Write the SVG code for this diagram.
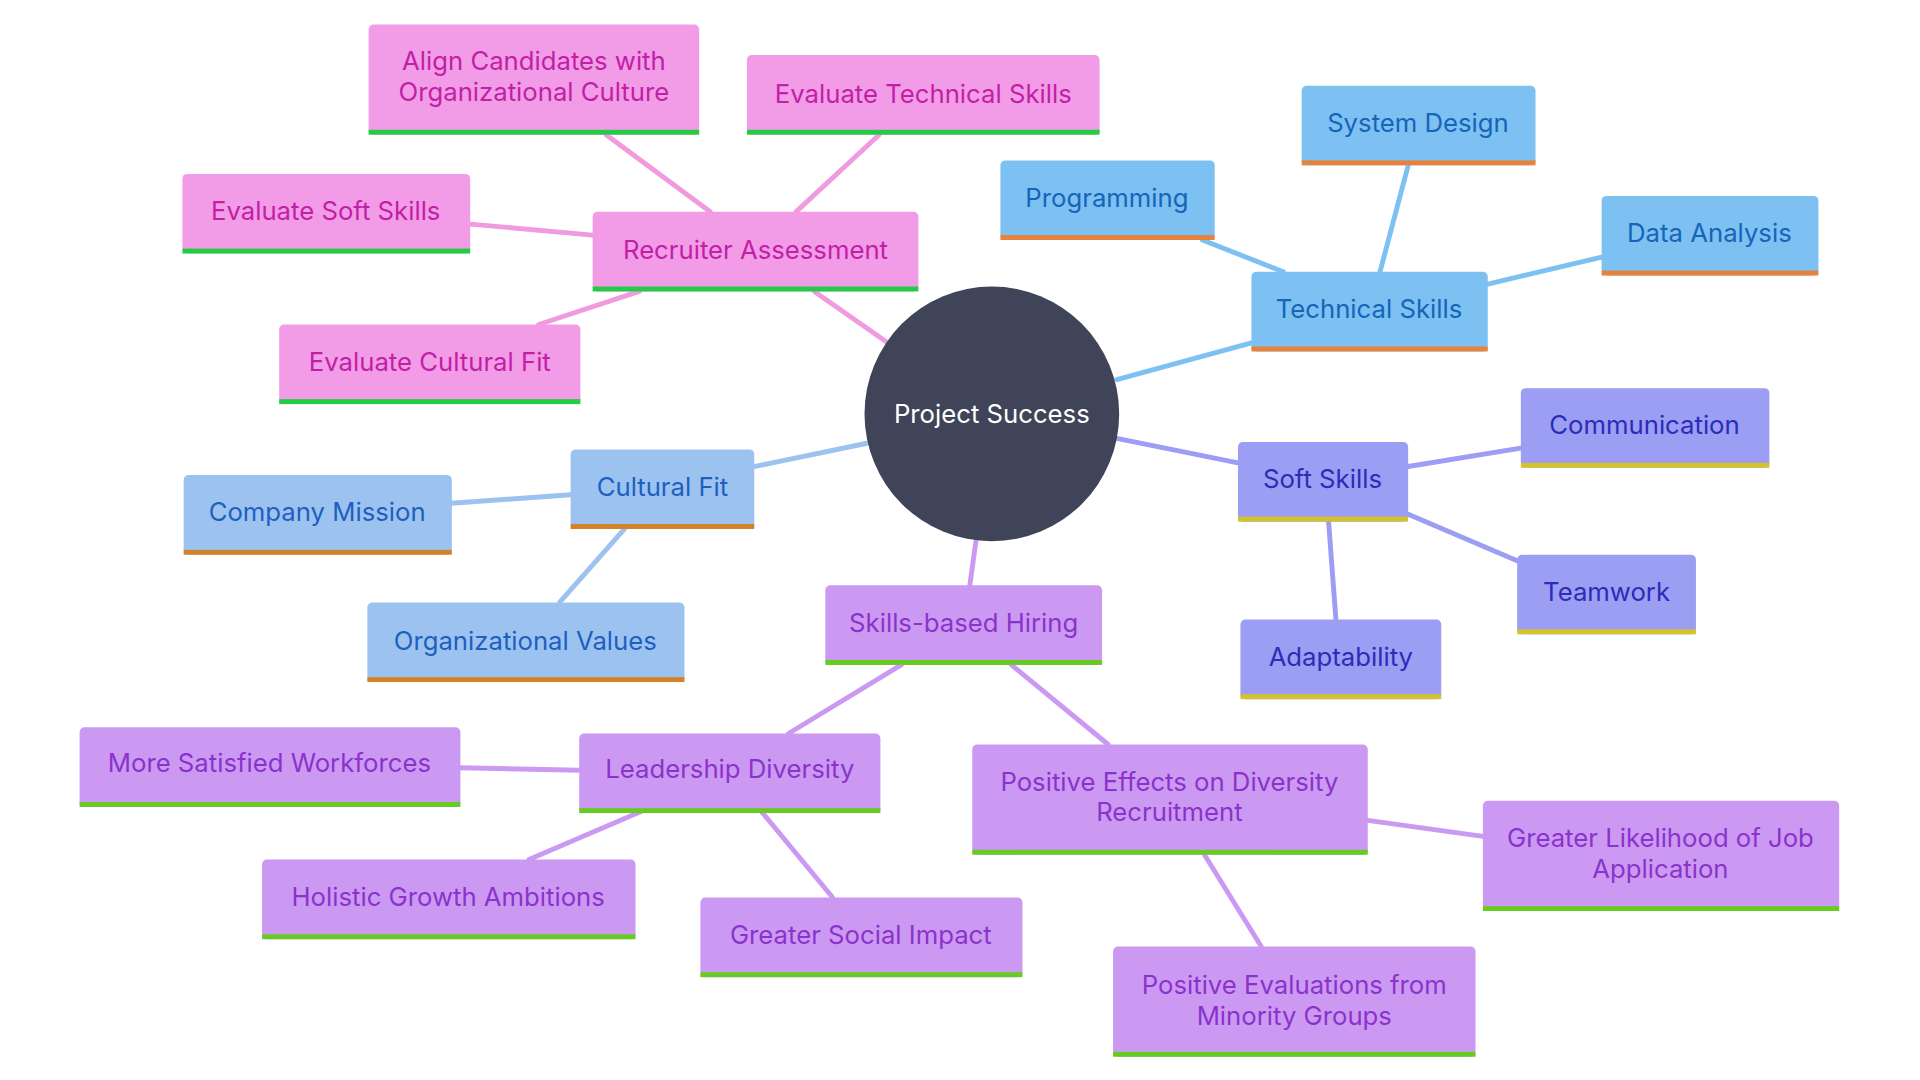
<svg xmlns="http://www.w3.org/2000/svg" width="1920" height="1080" viewBox="0 0 1920 1080">
<style>
text{font-family:Inter,"Noto Sans",sans-serif;font-size:21px;text-anchor:middle;dominant-baseline:central}
.e line{stroke-width:4;stroke-linecap:round}
.pk rect.b{fill:#f29be6}.pk rect.u{fill:#22cc44}.pk text{fill:#c21fa6}
.tb rect.b{fill:#7dc0f2}.tb rect.u{fill:#e8823a}.tb text{fill:#1565b8}
.sb rect.b{fill:#9b9ef2}.sb rect.u{fill:#d4c42a}.sb text{fill:#2c2cb8}
.cb rect.b{fill:#9cc3f0}.cb rect.u{fill:#d4822a}.cb text{fill:#1f5fc0}
.pp rect.b{fill:#cc99f2}.pp rect.u{fill:#66cc22}.pp text{fill:#8a33cc}
</style>
<rect width="1920" height="1080" fill="#fff"/>
<g transform="scale(1.2245)">
<g class="e">
<g stroke="#f09ae0"><line x1="725" y1="280" x2="665" y2="238"/><line x1="580" y1="173" x2="495" y2="110"/><line x1="650" y1="173" x2="718" y2="110"/><line x1="484" y1="192" x2="384" y2="183"/><line x1="522" y1="238" x2="440" y2="265"/></g>
<g stroke="#7dc0f2"><line x1="912" y1="310" x2="1022" y2="280"/><line x1="1048" y1="222" x2="982" y2="196"/><line x1="1127" y1="222" x2="1150" y2="135"/><line x1="1215" y1="232" x2="1308" y2="210"/></g>
<g stroke="#9b9ef2"><line x1="912" y1="358" x2="1011" y2="378"/><line x1="1150" y1="381" x2="1242" y2="366"/><line x1="1150" y1="420" x2="1239" y2="458"/><line x1="1085" y1="426" x2="1091" y2="506"/></g>
<g stroke="#9cc3f0"><line x1="708" y1="362" x2="616" y2="381"/><line x1="466" y1="404" x2="369" y2="411"/><line x1="510" y1="432" x2="457" y2="492"/></g>
<g stroke="#cc99f2"><line x1="797" y1="442" x2="792" y2="478"/><line x1="736" y1="543" x2="644" y2="599"/><line x1="826" y1="543" x2="905" y2="608"/><line x1="473" y1="629" x2="376" y2="627"/><line x1="523" y1="663" x2="432" y2="702"/><line x1="622" y1="663" x2="680" y2="733"/><line x1="1117" y1="670" x2="1211" y2="683"/><line x1="983" y1="697" x2="1030" y2="773"/></g>
</g>
<g id="center"><circle cx="810" cy="338" r="104" fill="#3f4459"/><text x="810" y="338" fill="#fff">Project Success</text></g>
<g class="pk">
<g id="align"><rect class="b" x="301" y="20" width="270" height="90" rx="4"/><rect class="u" x="301" y="106" width="270" height="4"/><text x="436" y="49">Align Candidates with</text><text x="436" y="75">Organizational Culture</text></g>
<g id="evaltech"><rect class="b" x="610" y="45" width="288" height="65" rx="4"/><rect class="u" x="610" y="106" width="288" height="4"/><text x="754" y="76">Evaluate Technical Skills</text></g>
<g id="evalsoft"><rect class="b" x="149" y="142" width="235" height="65" rx="4"/><rect class="u" x="149" y="203" width="235" height="4"/><text x="266" y="172">Evaluate Soft Skills</text></g>
<g id="recruiter"><rect class="b" x="484" y="173" width="266" height="65" rx="4"/><rect class="u" x="484" y="234" width="266" height="4"/><text x="617" y="204">Recruiter Assessment</text></g>
<g id="evalcult"><rect class="b" x="228" y="265" width="246" height="65" rx="4"/><rect class="u" x="228" y="326" width="246" height="4"/><text x="351" y="295">Evaluate Cultural Fit</text></g>
</g>
<g class="tb">
<g id="programming"><rect class="b" x="817" y="131" width="175" height="65" rx="4"/><rect class="u" x="817" y="192" width="175" height="4"/><text x="904" y="161">Programming</text></g>
<g id="sysdesign"><rect class="b" x="1063" y="70" width="191" height="65" rx="4"/><rect class="u" x="1063" y="131" width="191" height="4"/><text x="1158" y="100">System Design</text></g>
<g id="data"><rect class="b" x="1308" y="160" width="177" height="65" rx="4"/><rect class="u" x="1308" y="221" width="177" height="4"/><text x="1396" y="190">Data Analysis</text></g>
<g id="tech"><rect class="b" x="1022" y="222" width="193" height="65" rx="4"/><rect class="u" x="1022" y="283" width="193" height="4"/><text x="1118" y="252">Technical Skills</text></g>
</g>
<g class="sb">
<g id="soft"><rect class="b" x="1011" y="361" width="139" height="65" rx="4"/><rect class="u" x="1011" y="422" width="139" height="4"/><text x="1080" y="391">Soft Skills</text></g>
<g id="comm"><rect class="b" x="1242" y="317" width="203" height="65" rx="4"/><rect class="u" x="1242" y="378" width="203" height="4"/><text x="1343" y="347">Communication</text></g>
<g id="team"><rect class="b" x="1239" y="453" width="146" height="65" rx="4"/><rect class="u" x="1239" y="514" width="146" height="4"/><text x="1312" y="483">Teamwork</text></g>
<g id="adapt"><rect class="b" x="1013" y="506" width="164" height="65" rx="4"/><rect class="u" x="1013" y="567" width="164" height="4"/><text x="1095" y="536">Adaptability</text></g>
</g>
<g class="cb">
<g id="cultfit"><rect class="b" x="466" y="367" width="150" height="65" rx="4"/><rect class="u" x="466" y="428" width="150" height="4"/><text x="541" y="397">Cultural Fit</text></g>
<g id="mission"><rect class="b" x="150" y="388" width="219" height="65" rx="4"/><rect class="u" x="150" y="449" width="219" height="4"/><text x="259" y="418">Company Mission</text></g>
<g id="values"><rect class="b" x="300" y="492" width="259" height="65" rx="4"/><rect class="u" x="300" y="553" width="259" height="4"/><text x="429" y="523">Organizational Values</text></g>
</g>
<g class="pp">
<g id="skills"><rect class="b" x="674" y="478" width="226" height="65" rx="4"/><rect class="u" x="674" y="539" width="226" height="4"/><text x="787" y="508">Skills-based Hiring</text></g>
<g id="leader"><rect class="b" x="473" y="599" width="246" height="65" rx="4"/><rect class="u" x="473" y="660" width="246" height="4"/><text x="596" y="628">Leadership Diversity</text></g>
<g id="satisfied"><rect class="b" x="65" y="594" width="311" height="65" rx="4"/><rect class="u" x="65" y="655" width="311" height="4"/><text x="220" y="623">More Satisfied Workforces</text></g>
<g id="holistic"><rect class="b" x="214" y="702" width="305" height="65" rx="4"/><rect class="u" x="214" y="763" width="305" height="4"/><text x="366" y="732">Holistic Growth Ambitions</text></g>
<g id="social"><rect class="b" x="572" y="733" width="263" height="65" rx="4"/><rect class="u" x="572" y="794" width="263" height="4"/><text x="703" y="763">Greater Social Impact</text></g>
<g id="poseff"><rect class="b" x="794" y="608" width="323" height="90" rx="4"/><rect class="u" x="794" y="694" width="323" height="4"/><text x="955" y="638">Positive Effects on Diversity</text><text x="955" y="663">Recruitment</text></g>
<g id="likelihood"><rect class="b" x="1211" y="654" width="291" height="90" rx="4"/><rect class="u" x="1211" y="740" width="291" height="4"/><text x="1356" y="684">Greater Likelihood of Job</text><text x="1356" y="709">Application</text></g>
<g id="poseval"><rect class="b" x="909" y="773" width="296" height="90" rx="4"/><rect class="u" x="909" y="859" width="296" height="4"/><text x="1057" y="804">Positive Evaluations from</text><text x="1057" y="829">Minority Groups</text></g>
</g>
</g>
</svg>
